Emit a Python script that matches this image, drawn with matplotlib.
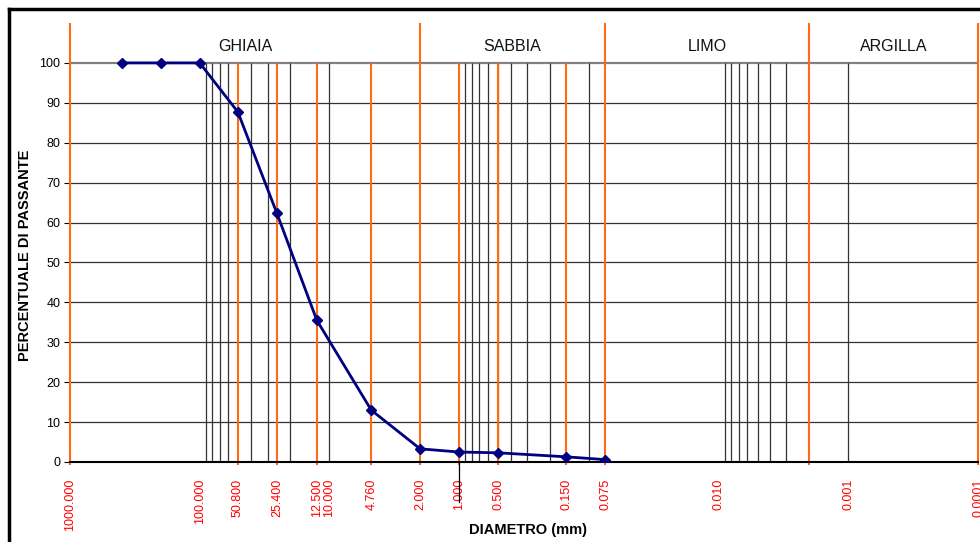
import matplotlib.pyplot as plt
from matplotlib.lines import Line2D

plt.rcParams['font.family'] = ['Liberation Sans', 'DejaVu Sans']

# grain size curve
diametri = [400, 200, 100, 50.8, 25.4, 12.5, 4.76, 2.0, 1.0, 0.5, 0.15, 0.075]
passante = [100, 100, 100, 87.7, 62.3, 35.5, 13.0, 3.3, 2.5, 2.3, 1.3, 0.6]

# sieves (orange lines inside the plot) and class limits (orange, full height)
setacci = [50.8, 25.4, 12.5, 4.76, 1.0, 0.5, 0.15]
limiti = [1000, 2.0, 0.075, 0.002, 0.0001]
griglia_x = [90, 80, 70, 60, 40, 30, 20, 10,
             0.9, 0.8, 0.7, 0.6, 0.5, 0.4, 0.3, 0.2, 0.1,
             0.009, 0.008, 0.007, 0.006, 0.005, 0.004, 0.003, 0.001]

tick_x = [1000, 100, 50.8, 25.4, 12.5, 10, 4.76, 2.0, 1.0, 0.5, 0.15, 0.075, 0.01, 0.001, 0.0001]
tick_lab = ["1000.000", "100.000", "50.800", "25.400", "12.500", "10.000", "4.760",
            "2.000", "1.000", "0.500", "0.150", "0.075", "0.010", "0.001", "0.0001"]

classi = ["GHIAIA", "SABBIA", "LIMO", "ARGILLA"]

fig = plt.figure(figsize=(9.8, 5.42), dpi=100)
ax = fig.add_axes([70 / 980, 80 / 542, 908 / 980, 439 / 542])
ax.set_xscale('log')
ax.set_xlim(1000, 0.0001)
ax.set_ylim(0, 110)

# horizontal grid
for y in range(10, 101, 10):
    if y == 100:
        ax.plot([1000, 0.0001], [y, y], color='#808080', lw=1.6, zorder=1)
    else:
        ax.plot([1000, 0.0001], [y, y], color='#333333', lw=0.9, zorder=1)

# vertical grid
ax.vlines(griglia_x, 0, 100, color='#333333', lw=0.9, zorder=1)
ax.vlines(setacci, -0.8, 100, color='#FF6A13', lw=1.5, zorder=2, clip_on=False)
ax.vlines(limiti, -0.8, 110, color='#FF6A13', lw=1.5, zorder=2, clip_on=False)
ax.plot([1.0, 1.0], [0, -10], color='black', lw=0.9, clip_on=False, zorder=2)

# curve
ax.plot(diametri, passante, color='#000080', lw=2, marker='D', markersize=5, zorder=5)

# class labels
for i, nome in enumerate(classi):
    xc = (limiti[i] * limiti[i + 1]) ** 0.5
    ax.text(xc, 104, nome, ha='center', va='center', fontsize=11.5, color='#111111')

ax.set_yticks(range(0, 101, 10))
ax.tick_params(axis='y', length=4, pad=3, labelsize=9, direction='out', color='black')
ax.set_xticks(tick_x)
ax.set_xticklabels(tick_lab, rotation=90, color='red', fontsize=9, va='top')
ax.minorticks_off()
ax.tick_params(axis='x', length=0, pad=12)

for s in ['top', 'right', 'left']:
    ax.spines[s].set_visible(False)
ax.spines['bottom'].set_linewidth(1.5)

fig.text(25 / 980, 1 - 255 / 542, "PERCENTUALE DI PASSANTE", rotation=90,
         ha='center', va='center', fontsize=10.5, fontweight='bold')
fig.text(528 / 980, 1 - 530 / 542, "DIAMETRO (mm)", ha='center', va='center',
         fontsize=10.5, fontweight='bold')

# outer frame (cropped at right and bottom)
fig.add_artist(Line2D([9 / 980, 9 / 980], [0, 1 - 9 / 542], color='black', lw=2.5))
fig.add_artist(Line2D([9 / 980, 1], [1 - 9 / 542, 1 - 9 / 542], color='black', lw=2.5))

plt.savefig('out.png', dpi=100)
